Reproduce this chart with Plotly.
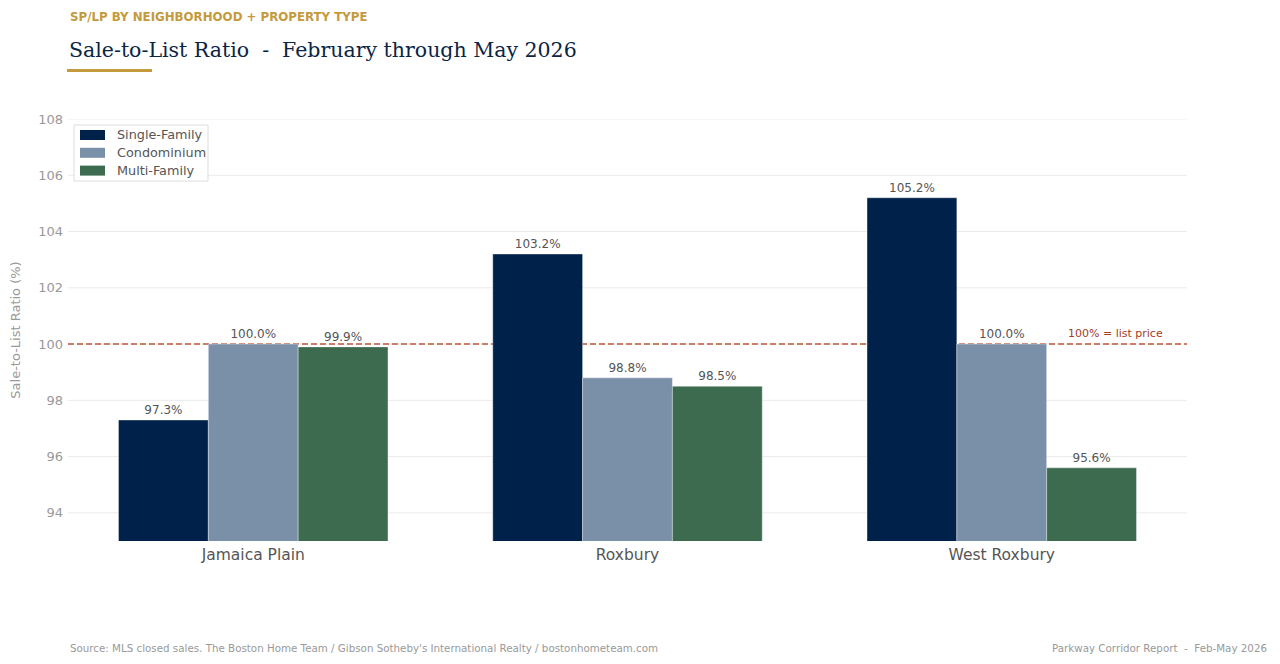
import plotly.graph_objects as go

neighborhoods = ["Jamaica Plain", "Roxbury", "West Roxbury"]
series_names = ["Single-Family", "Condominium", "Multi-Family"]
single_family = [97.3, 103.2, 105.2]
condominium = [100.0, 98.8, 100.0]
multi_family = [99.9, 98.5, 95.6]
colors = ["#00224a", "#7a8fa8", "#3d6b50"]
y_ticks = [94, 96, 98, 100, 102, 104, 106, 108]

# plot-area geometry (pixels) used for overlay placement
L, R, T, B = 68, 1187, 119, 541
W, H = R - L, B - T


def px(x):
    return (x - L) / W


def py(y):
    return (B - y) / H


fig = go.Figure()
for name, vals, col in zip(series_names, [single_family, condominium, multi_family], colors):
    fig.add_trace(go.Bar(
        x=neighborhoods, y=vals, name=name,
        marker=dict(color=col, line=dict(color="rgba(255,255,255,0.6)", width=0.6)),
        text=[f"{v:.1f}%" for v in vals], textposition="outside",
        textfont=dict(family="DejaVu Sans", size=12, color="#555555"),
        cliponaxis=False, showlegend=False,
    ))

# gridlines drawn as shapes so the reference line sits above them but below bars
for t in y_ticks:
    fig.add_shape(type="line", xref="paper", yref="y", x0=0, x1=1, y0=t, y1=t,
                  line=dict(color="#ebebeb", width=1), layer="below")
fig.add_shape(type="line", xref="paper", yref="y", x0=0, x1=1, y0=100, y1=100,
              line=dict(color="#c0573e", width=1.5, dash="6px,3px"), layer="below")
fig.add_annotation(xref="paper", yref="y", x=px(1165), y=100, text="100% = list price",
                   showarrow=False, xanchor="right", yanchor="bottom", yshift=2,
                   font=dict(family="DejaVu Sans", size=11, color="#a33d26"))

# manual legend
fig.add_shape(type="rect", xref="paper", yref="paper", x0=px(74), x1=px(208),
              y0=py(181), y1=py(125), fillcolor="white",
              line=dict(color="#dddddd", width=1), layer="above")
for i, (name, col) in enumerate(zip(series_names, colors)):
    cy = 135 + i * 17.8
    fig.add_shape(type="rect", xref="paper", yref="paper", x0=px(80), x1=px(105),
                  y0=py(cy + 5), y1=py(cy - 5), fillcolor=col, line=dict(width=0),
                  layer="above")
    fig.add_annotation(xref="paper", yref="paper", x=px(115), y=py(cy), text=name,
                       showarrow=False, xanchor="left", yanchor="middle",
                       font=dict(family="DejaVu Sans", size=12.8, color="#555555"))

fig.update_layout(
    width=1280, height=664, autosize=False,
    paper_bgcolor="white", plot_bgcolor="white",
    margin=dict(l=L, r=1280 - R, t=T, b=664 - B),
    barmode="group", bargap=0.28, bargroupgap=0,
    showlegend=False,
    xaxis=dict(range=[-0.495, 2.495], showgrid=False, zeroline=False, showline=False,
               ticks="", ticklabelstandoff=2,
               tickfont=dict(family="DejaVu Sans", size=15.5, color="#555555")),
    yaxis=dict(range=[93, 108], tickvals=y_ticks, showgrid=False,
               zeroline=False, showline=False, ticks="",
               ticklabelstandoff=4,
               tickfont=dict(family="DejaVu Sans", size=13, color="#999999"),
               title=dict(text="Sale-to-List Ratio (%)", standoff=14,
                          font=dict(family="DejaVu Sans", size=13, color="#999999"))),
    font=dict(family="DejaVu Sans"),
)

fig.add_annotation(xref="paper", yref="paper", x=px(68), y=py(17), xanchor="left",
                   yanchor="middle", showarrow=False,
                   text="<b>SP/LP BY NEIGHBORHOOD + PROPERTY TYPE</b>",
                   font=dict(family="DejaVu Sans", size=11.8, color="#c49a3c"))
fig.add_annotation(xref="paper", yref="paper", x=px(67), y=py(50), xanchor="left",
                   yanchor="middle", showarrow=False,
                   text="Sale-to-List Ratio  -  February through May 2026",
                   font=dict(family="DejaVu Serif", size=20.5, color="#0b2545"))
fig.add_shape(type="rect", xref="paper", yref="paper", x0=px(67), x1=px(152),
              y0=py(72), y1=py(69), fillcolor="#c49a3c", line=dict(width=0))
fig.add_annotation(xref="paper", yref="paper", x=px(68), y=py(648), xanchor="left",
                   yanchor="middle", showarrow=False,
                   text="Source: MLS closed sales. The Boston Home Team / Gibson Sotheby's International Realty / bostonhometeam.com",
                   font=dict(family="DejaVu Sans", size=10.3, color="#999999"))
fig.add_annotation(xref="paper", yref="paper", x=px(1269), y=py(648), xanchor="right",
                   yanchor="middle", showarrow=False,
                   text="Parkway Corridor Report  -  Feb-May 2026",
                   font=dict(family="DejaVu Sans", size=10.3, color="#999999"))

fig.write_html("out.html")
